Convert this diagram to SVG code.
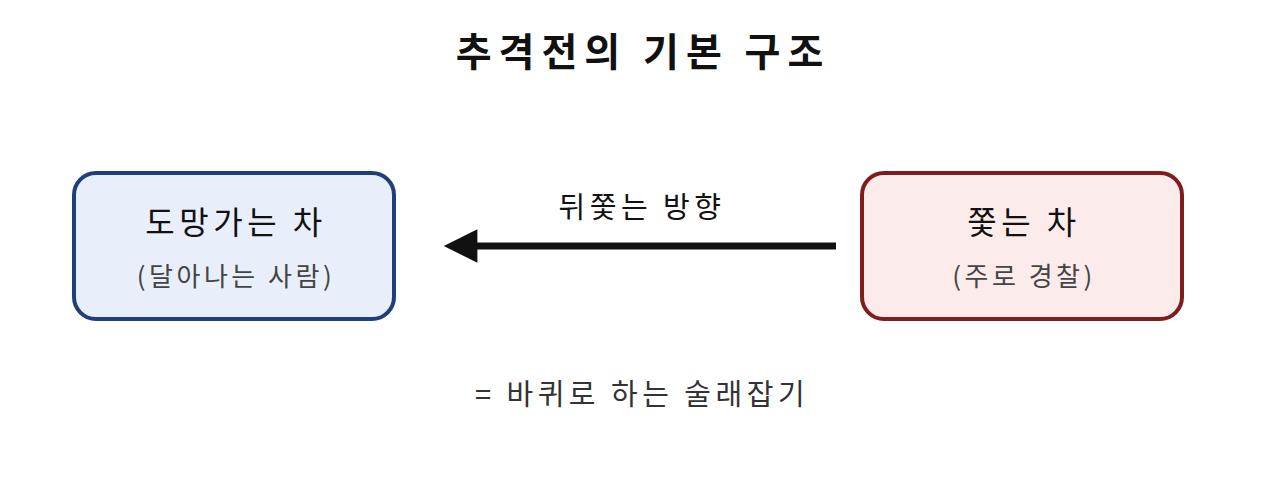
<svg xmlns="http://www.w3.org/2000/svg" width="1280" height="492" viewBox="0 0 1280 492">
<style>
text{font-family:"Noto Sans CJK KR","Noto Sans",sans-serif;text-anchor:middle}
.title{font-size:39px;font-weight:700;fill:#111;letter-spacing:7px}
.main{font-size:32px;fill:#111;letter-spacing:4.5px}
.sub{font-size:26px;fill:#444;letter-spacing:3.5px}
.lbl{font-size:29px;fill:#111;letter-spacing:4.5px}
.note{font-size:29px;fill:#333;letter-spacing:4.5px}
</style>
<defs>
<marker id="ah" viewBox="0 0 10 10" refX="1" refY="5" markerWidth="5" markerHeight="4.8" orient="auto-start-reverse" markerUnits="strokeWidth">
<path d="M0,0 L10,5 L0,10 Z" fill="#111"/>
</marker>
</defs>
<rect width="1280" height="492" fill="#fff"/>
<text class="title" x="643" y="66">추격전의 기본 구조</text>
<g id="fleeing">
<rect x="74" y="173" width="320" height="146" rx="22" fill="#e8effb" stroke="#1f3f7a" stroke-width="4"/>
<text class="main" x="236" y="234">도망가는 차</text>
<text class="sub" x="236" y="286">(달아나는 사람)</text>
</g>
<g id="connectors">
<line x1="836" y1="246" x2="474" y2="246" stroke="#111" stroke-width="7" marker-end="url(#ah)"/>
<text class="lbl" x="642" y="218">뒤쫓는 방향</text>
</g>
<g id="chasing">
<rect x="862" y="173" width="320" height="146" rx="22" fill="#fcebeb" stroke="#7f1d1d" stroke-width="4"/>
<text class="main" x="1024" y="234">쫓는 차</text>
<text class="sub" x="1024" y="286">(주로 경찰)</text>
</g>
<text class="note" x="642" y="405">= 바퀴로 하는 술래잡기</text>
</svg>
